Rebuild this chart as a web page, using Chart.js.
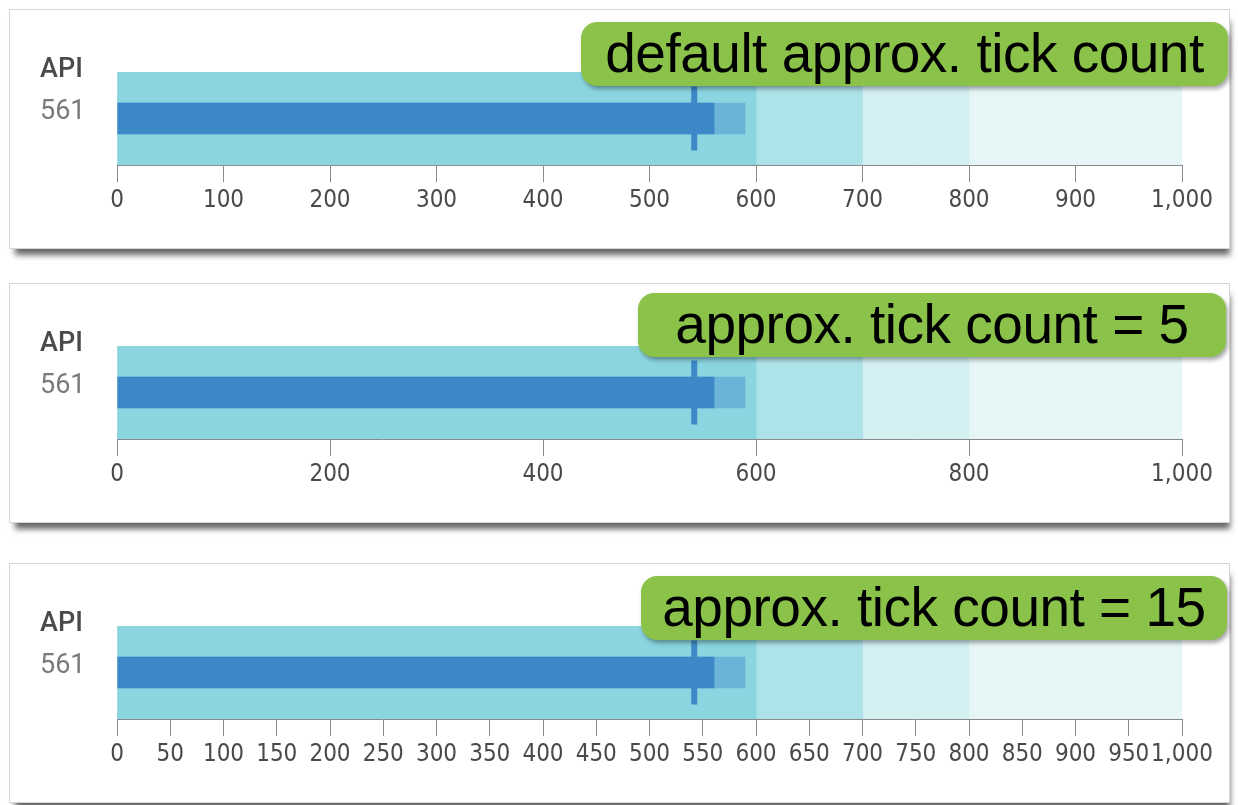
<!DOCTYPE html>
<html>
<head>
<meta charset="utf-8">
<title>Bullet chart tick counts</title>
<script src="https://cdn.jsdelivr.net/npm/chart.js@4.4.1/dist/chart.umd.min.js"></script>
<style>
  body {
    margin: 0;
    width: 1238px;
    height: 805px;
    overflow: hidden;
    position: relative;
    background: #fff;
    font-family: "Liberation Sans", Arial, sans-serif;
  }
  .panel {
    position: absolute;
    left: 9px;
    width: 1219px;
    height: 238px;
    background: #fff;
    border: 1px solid #d6d6d6;
    box-shadow: 3px 9px 6px -3px rgba(0, 0, 0, 0.6);
  }
  .chart-box {
    position: absolute;
    left: 0;
    top: 0;
    width: 1219px;
    height: 238px;
  }
  .name, .value {
    position: absolute;
    left: 30px;
    font-family: Roboto, "Liberation Sans", sans-serif;
    font-size: 27px;
    line-height: 30px;
  }
  .name { color: #4a4a4a; font-weight: 500; }
  .value { color: #7a7a7a; }
  .tag {
    position: absolute;
    height: 64px;
    line-height: 62px;
    background: #8bc34a;
    border-radius: 16px;
    color: #000;
    font-size: 55px;
    letter-spacing: -0.5px;
    text-align: center;
    white-space: nowrap;
    box-shadow: 2px 3px 4px rgba(0, 0, 0, 0.35);
  }
</style>
</head>
<body>
<script>
// data
const categories = ["API"];
const actualValues = [561];
const forecastValues = [590];
const targetValues = [542];
const rangeBounds = [0, 600, 700, 800, 1000];
const tickSteps = [100, 200, 50];
const tagLabels = [
  "default approx. tick count",
  "approx. tick count = 5",
  "approx. tick count = 15",
];

// looks
const rangeColors = ["#8ad5e0", "#ade2e8", "#d3eff2", "#e6f6f6"];
const barColor = "#3d89c8";
const forecastColor = "#6ab4d8";
const panelTops = [9, 283, 563];
const tagBoxes = [
  { left: 571, top: 12, width: 647 },
  { left: 628, top: 9, width: 588 },
  { left: 631, top: 12, width: 586 },
];
const tickFont = "'Liberation Sans Narrow', 'DejaVu Sans Condensed', 'Liberation Sans', sans-serif";

function buildDatasets() {
  const sets = [];

  // target marker (drawn on top)
  sets.push({
    type: "line",
    indexAxis: "y",
    data: targetValues.map((v, i) => ({ x: v, y: categories[i] })),
    showLine: false,
    pointStyle: "line",
    pointRotation: 90,
    pointRadius: 32,
    pointHoverRadius: 32,
    pointBorderWidth: 6,
    pointBorderColor: barColor,
    order: 0,
  });

  // actual value
  sets.push({
    type: "bar",
    data: actualValues,
    backgroundColor: barColor,
    barPercentage: 0.34,
    categoryPercentage: 1,
    order: 1,
  });

  // forecast value
  sets.push({
    type: "bar",
    data: forecastValues,
    backgroundColor: forecastColor,
    barPercentage: 0.34,
    categoryPercentage: 1,
    order: 2,
  });

  // qualitative ranges
  for (let i = 0; i < rangeBounds.length - 1; i++) {
    sets.push({
      type: "bar",
      data: categories.map(() => [rangeBounds[i], rangeBounds[i + 1]]),
      backgroundColor: rangeColors[i],
      barPercentage: 1,
      categoryPercentage: 1,
      order: 3 + i,
    });
  }
  return sets;
}

function makePanel(idx) {
  const panel = document.createElement("div");
  panel.className = "panel";
  panel.style.top = panelTops[idx] + "px";

  const box = document.createElement("div");
  box.className = "chart-box";
  const canvas = document.createElement("canvas");
  box.appendChild(canvas);
  panel.appendChild(box);

  const name = document.createElement("div");
  name.className = "name";
  name.style.top = "43px";
  name.innerText = categories[0];
  panel.appendChild(name);

  const value = document.createElement("div");
  value.className = "value";
  value.style.top = "85px";
  value.innerText = actualValues[0];
  panel.appendChild(value);

  const tag = document.createElement("div");
  tag.className = "tag";
  tag.style.left = tagBoxes[idx].left + "px";
  tag.style.top = tagBoxes[idx].top + "px";
  tag.style.width = tagBoxes[idx].width + "px";
  tag.innerText = tagLabels[idx];
  panel.appendChild(tag);

  document.body.appendChild(panel);

  new Chart(canvas, {
    type: "bar",
    data: {
      labels: categories,
      datasets: buildDatasets(),
    },
    options: {
      indexAxis: "y",
      responsive: true,
      maintainAspectRatio: false,
      animation: false,
      events: [],
      locale: "en-US",
      layout: {
        padding: { left: 107, right: 47, top: 62, bottom: 0 },
      },
      plugins: {
        legend: { display: false },
        tooltip: { enabled: false },
      },
      scales: {
        y: {
          type: "category",
          stacked: true,
          display: false,
        },
        x: {
          type: "linear",
          min: rangeBounds[0],
          max: rangeBounds[rangeBounds.length - 1],
          stacked: false,
          afterFit: (axis) => {
            axis.height = 83; // keeps the band at the same height in every panel
          },
          ticks: {
            stepSize: tickSteps[idx],
            autoSkip: false,
            maxRotation: 0,
            padding: 4,
            color: "#4a4a4a",
            font: { family: tickFont, size: 24 },
          },
          grid: {
            drawOnChartArea: false,
            drawTicks: true,
            tickLength: 17,
            color: "#8a8a8a",
          },
          border: { display: true, color: "#8a8a8a", width: 1 },
        },
      },
    },
  });
}

tagLabels.forEach((_, i) => makePanel(i));
</script>
</body>
</html>
